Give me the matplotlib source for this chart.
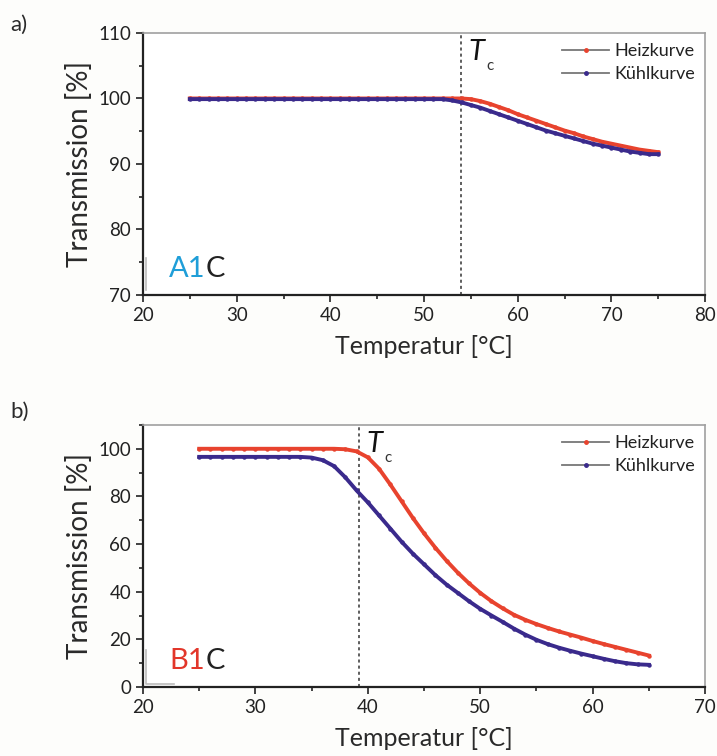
import matplotlib
matplotlib.use("Agg")
import matplotlib.pyplot as plt
from matplotlib.lines import Line2D
from matplotlib.ticker import MultipleLocator

plt.rcParams['font.family'] = ['Lato', 'DejaVu Sans']
plt.rcParams['mathtext.fontset'] = 'custom'
plt.rcParams['mathtext.it'] = 'Lato:italic'
plt.rcParams['mathtext.rm'] = 'Lato'

RED = '#e8432e'
BLUE = '#3a2a8c'
TXT = '#2a2a2a'

# --- Daten Probe A1C (25..75 °C, 1 °C Schritte) ---
temp_a = list(range(25, 76))
heiz_a = [100.0] * 30 + [99.9, 99.6, 99.2, 98.7, 98.2, 97.6, 97.1, 96.6, 96.1, 95.6,
                         95.1, 94.7, 94.2, 93.8, 93.4, 93.1, 92.8, 92.5, 92.2, 92.0, 91.8]
kuehl_a = [99.9] * 27 + [99.9, 99.7, 99.4, 99.0, 98.6, 98.1, 97.6, 97.1, 96.6, 96.1, 95.6,
                         95.1, 94.7, 94.3, 93.9, 93.5, 93.1, 92.8, 92.5, 92.2, 91.9, 91.7,
                         91.5, 91.5]
tc_a = 53.9

# --- Daten Probe B1C (25..65 °C) ---
temp_b = list(range(25, 66))
heiz_b = [100.0] * 13 + [99.8, 98.9, 96.4, 91.6, 85.0, 78.0, 71.0, 64.5, 58.5, 53.0, 48.0,
                         43.5, 39.5, 36.0, 33.0, 30.3, 28.2, 26.4, 24.8, 23.3, 22.0,
                         20.7, 19.3, 18.0, 16.8, 15.6, 14.4, 13.2]
kuehl_b = [96.6] * 10 + [96.3, 95.2, 92.7, 88.0, 82.5, 77.5, 72.0, 66.5, 61.0, 56.0, 51.5,
                         47.0, 43.0, 39.5, 36.0, 32.8, 30.0, 27.3, 24.5, 22.0, 19.8,
                         18.0, 16.5, 15.2, 14.0, 12.9, 11.8, 10.8, 10.0, 9.5, 9.3]
tc_b = 39.2

fig = plt.figure(figsize=(7.17, 7.56), dpi=100)
fig.patch.set_facecolor('#fdfdfb')


def panel(ax, t, h, k, tc, xlim, ylim, xmaj, ymaj, ymin, name, namecol):
    ax.plot(t, h, color=RED, lw=2.8, marker='o', ms=2.2, zorder=3)
    ax.plot(t, k, color=BLUE, lw=2.8, marker='o', ms=2.2, zorder=4)
    ax.axvline(tc, color='#333333', lw=1.1, ls=(0, (2, 2)), zorder=2)
    tt = ax.annotate(r'$T$', xy=(tc, ylim[1]), xycoords='data', xytext=(5, -4),
                     textcoords='offset points', fontsize=21, va='top', ha='left',
                     color='#111111')
    ax.annotate('c', xy=(1, 0), xycoords=tt, xytext=(0, -1), textcoords='offset points',
                fontsize=11, va='center', ha='left', color='#333333')
    ax.set_xlim(*xlim)
    ax.set_ylim(*ylim)
    ax.xaxis.set_major_locator(MultipleLocator(xmaj))
    ax.xaxis.set_minor_locator(MultipleLocator(xmaj / 2))
    ax.yaxis.set_major_locator(MultipleLocator(ymaj))
    ax.yaxis.set_minor_locator(MultipleLocator(ymin))
    ax.tick_params(which='both', direction='out', top=False, right=False,
                   labelsize=13.5, colors='#222222', width=1.2)
    ax.tick_params(which='major', length=5)
    ax.tick_params(which='minor', length=3)
    for s in ['left', 'bottom']:
        ax.spines[s].set_linewidth(1.6)
        ax.spines[s].set_color('#222222')
    for s in ['top', 'right']:
        ax.spines[s].set_linewidth(1.2)
        ax.spines[s].set_color('#a0a0a0')
    ax.set_xlabel('Temperatur [°C]', fontsize=18, color=TXT, labelpad=8)
    ax.set_ylabel('Transmission [%]', fontsize=20, color=TXT, labelpad=4)
    handles = [Line2D([], [], color='#777777', lw=1.3, marker='o', ms=2.5,
                      mfc=RED, mec=RED),
               Line2D([], [], color='#777777', lw=1.3, marker='o', ms=2.5,
                      mfc=BLUE, mec=BLUE)]
    ax.legend(handles, ['Heizkurve', 'Kühlkurve'], loc='upper right', frameon=False,
              fontsize=13, handlelength=2.6, handletextpad=0.3, labelspacing=0.4,
              borderaxespad=0.15, labelcolor='#222222')
    nm = ax.text(0.047, 0.05, name, transform=ax.transAxes, fontsize=21, color=namecol,
                 ha='left', va='bottom')
    ax.annotate('C', xy=(1, 0), xycoords=nm, fontsize=21, color='#222222',
                ha='left', va='bottom')


ax1 = fig.add_axes([0.1994, 0.6098, 0.784, 0.3466])
panel(ax1, temp_a, heiz_a, kuehl_a, tc_a, (20, 80), (70, 110), 10, 10, 5, 'A1', '#1f9ed8')
ax1.plot([0.005, 0.005], [0.02, 0.14], transform=ax1.transAxes, color='#bbbbbb', lw=1.2)

ax2 = fig.add_axes([0.1994, 0.0913, 0.784, 0.3466])
panel(ax2, temp_b, heiz_b, kuehl_b, tc_b, (20, 70), (0, 110), 10, 20, 10, 'B1', '#e2362a')
ax2.plot([0.006, 0.006, 0.055], [0.14, 0.01, 0.01], transform=ax2.transAxes,
         color='#bbbbbb', lw=1.2)

fig.text(0.014, 0.967, 'a)', fontsize=16, color=TXT, va='center')
fig.text(0.014, 0.455, 'b)', fontsize=16, color=TXT, va='center')

fig.savefig('out.png', dpi=100, facecolor=fig.get_facecolor())
